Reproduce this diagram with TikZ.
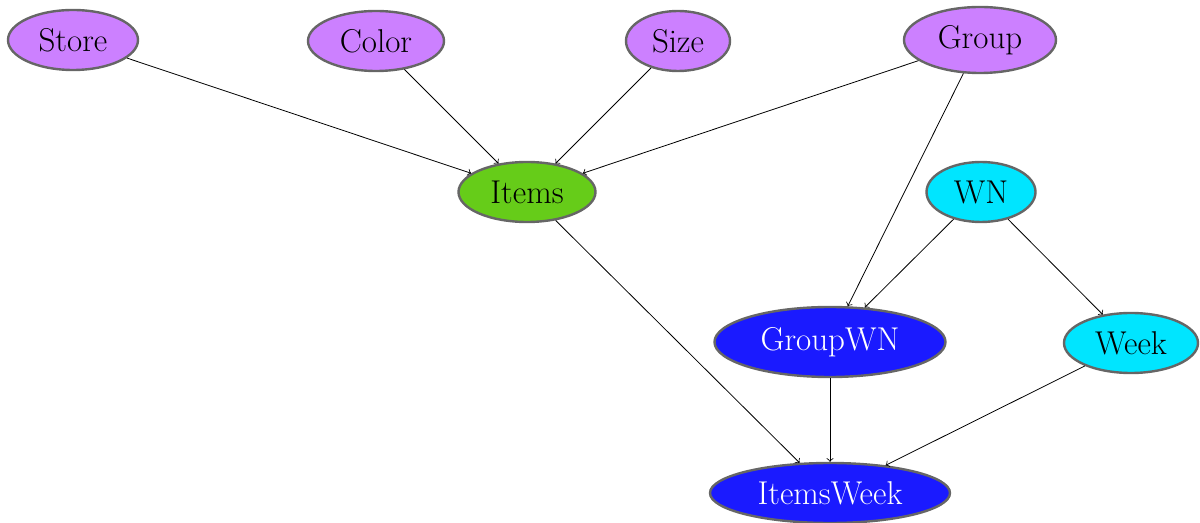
\documentclass[tikz,border=0pt]{standalone}
\usetikzlibrary{shapes.geometric}
\definecolor{attrpurple}{RGB}{204,128,255}
\definecolor{itemgreen}{RGB}{102,204,25}
\definecolor{weekcyan}{RGB}{0,229,255}
\definecolor{tblue}{RGB}{26,26,255}
\tikzset{
  ent/.style={ellipse,draw=black!60,line width=1.2pt,inner sep=0pt,
    minimum height=30pt,font=\fontsize{16.5}{19}\selectfont},
  attr/.style={ent,fill=attrpurple},
  hub/.style={ent,fill=itemgreen},
  wk/.style={ent,fill=weekcyan},
  tbl/.style={ent,fill=tblue,text=white}
}
\begin{document}
\begin{tikzpicture}[x=0.5pt,y=-0.5pt]
      \useasboundingbox (0,0) rectangle (1200,523);
      \node[attr,minimum width=65pt] (store) at (73,40) {Store};
      \node[attr,minimum width=68pt] (color) at (376,41) {Color};
      \node[attr,minimum width=52pt] (size) at (678,41) {Size};
      \node[attr,minimum width=76pt,minimum height=33pt] (group) at (980,40) {Group};
      \node[hub,minimum width=68.5pt] (items) at (527,192) {Items};
      \node[wk,minimum width=54.5pt] (wn) at (981,192) {WN};
      \node[tbl,minimum width=115.5pt,minimum height=35pt] (groupwn) at (830,342) {GroupWN};
      \node[wk,minimum width=67pt] (week) at (1131,343) {Week};
      \node[tbl,minimum width=120pt] (itemsweek) at (830,493) {ItemsWeek};
      \foreach \src in {store,color,size,group} {
          \draw[->] (\src) -- (items);
      }
      \draw[->] (group) -- (groupwn);
      \draw[->] (wn) -- (groupwn);
      \draw[->] (wn) -- (week);
      \foreach \src in {items,groupwn,week} {
          \draw[->] (\src) -- (itemsweek);
      }
\end{tikzpicture}
\end{document}
